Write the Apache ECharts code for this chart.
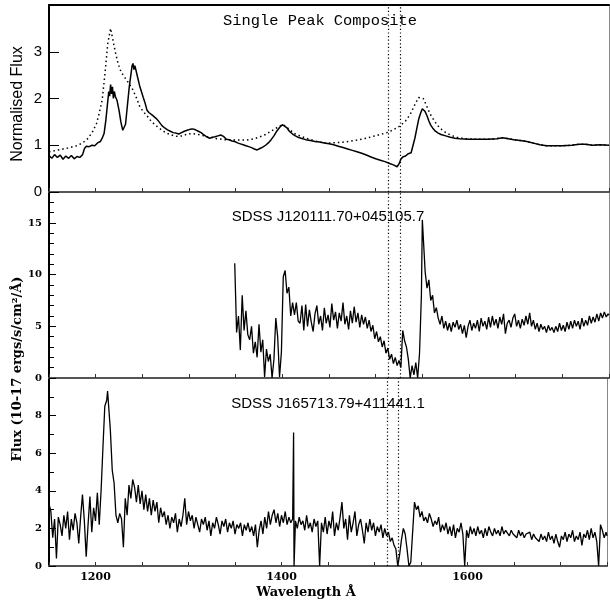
<!DOCTYPE html>
<html>
<head>
<meta charset="utf-8">
<script src="https://cdn.jsdelivr.net/npm/echarts@6/dist/echarts.min.js"></script>
<style>html,body{margin:0;padding:0;background:#fff}#c{width:610px;height:603px}</style>
</head>
<body>
<div id="c"></div>
<script>
// ---- data (wavelength in Angstrom, flux) ----
const xTickLabels = [1200, 1400, 1600];
const markWaves = [1514, 1526];
const titles = ["Single Peak Composite", "SDSS J120111.70+045105.7", "SDSS J165713.79+411441.1"];

const compositeSolid = [
[1150,0.78],[1153,0.72],[1156,0.80],[1159,0.74],[1162,0.79],[1165,0.70],[1168,0.77],[1171,0.72],[1174,0.78],[1177,0.71],
[1180,0.76],[1183,0.74],[1186,0.80],[1188,0.93],[1190,0.98],[1193,0.97],[1196,1.00],[1199,0.99],[1202,1.05],[1205,1.08],
[1207,1.15],[1209,1.25],[1211,1.55],[1213,1.95],[1214,2.15],[1215,2.05],[1216,2.30],[1217,2.10],[1218,2.25],[1219,2.00],
[1220,2.15],[1221,2.05],[1223,1.95],[1225,1.75],[1227,1.50],[1229,1.32],[1230,1.28],[1231,1.30],[1232,1.45],[1234,1.85],
[1236,2.25],[1238,2.55],[1239,2.70],[1240,2.75],[1241,2.62],[1242,2.70],[1243,2.62],[1245,2.45],[1247,2.28],[1249,2.15],
[1251,2.02],[1253,1.90],[1255,1.75],[1257,1.70],[1259,1.66],[1261,1.64],[1263,1.60],[1265,1.57],[1268,1.50],[1271,1.42],
[1274,1.37],[1277,1.33],[1280,1.30],[1283,1.27],[1286,1.26],[1289,1.24],[1292,1.27],[1295,1.30],[1298,1.32],[1301,1.34],
[1304,1.35],[1307,1.33],[1310,1.30],[1313,1.27],[1316,1.22],[1319,1.18],[1322,1.15],[1325,1.17],[1328,1.18],[1331,1.20],
[1334,1.22],[1337,1.19],[1340,1.13],[1343,1.12],[1346,1.09],[1349,1.08],[1352,1.05],[1355,1.03],[1358,1.01],[1361,0.99],
[1364,0.97],[1367,0.95],[1370,0.92],[1373,0.90],[1376,0.93],[1379,0.96],[1382,1.00],[1385,1.05],[1388,1.12],[1391,1.20],
[1394,1.30],[1397,1.38],[1400,1.44],[1402,1.45],[1405,1.37],[1408,1.29],[1411,1.24],[1414,1.20],[1417,1.17],[1420,1.15],
[1425,1.12],[1430,1.10],[1435,1.08],[1440,1.07],[1445,1.05],[1450,1.03],[1455,1.01],[1460,0.98],[1465,0.95],[1470,0.92],
[1475,0.89],[1480,0.86],[1485,0.83],[1490,0.79],[1495,0.75],[1500,0.71],[1505,0.68],[1510,0.65],[1515,0.61],[1519,0.58],
[1523,0.54],[1525,0.60],[1527,0.70],[1529,0.75],[1532,0.77],[1535,0.82],[1538,0.84],[1540,0.87],[1542,1.15],[1544,1.35],
[1546,1.55],[1548,1.68],[1550,1.78],[1551,1.79],[1553,1.72],[1555,1.63],[1557,1.52],[1559,1.43],[1561,1.37],[1564,1.30],
[1567,1.26],[1570,1.23],[1575,1.20],[1580,1.17],[1585,1.15],[1590,1.14],[1600,1.13],[1610,1.13],[1620,1.13],[1630,1.14],
[1636,1.16],[1642,1.14],[1648,1.12],[1655,1.10],[1662,1.08],[1670,1.04],[1676,1.01],[1683,0.99],[1690,0.99],[1700,0.99],
[1710,1.00],[1718,1.02],[1725,1.02],[1732,1.00],[1740,1.01],[1750,1.00]
];

const compositeDotted = [
[1150,0.86],[1160,0.90],[1170,0.94],[1180,0.99],[1186,1.05],[1192,1.15],[1197,1.30],[1201,1.47],[1204,1.70],[1207,1.97],
[1210,2.54],[1213,3.18],[1216,3.50],[1219,3.20],[1221,3.00],[1224,2.75],[1227,2.58],[1230,2.48],[1233,2.40],[1237,2.28],
[1240,2.18],[1244,2.00],[1247,1.84],[1251,1.72],[1255,1.63],[1260,1.50],[1266,1.40],[1271,1.32],[1276,1.26],[1281,1.22],
[1287,1.19],[1293,1.20],[1298,1.24],[1303,1.25],[1310,1.23],[1316,1.20],[1322,1.17],[1330,1.14],[1338,1.12],[1346,1.11],
[1355,1.11],[1362,1.11],[1370,1.14],[1376,1.18],[1382,1.23],[1387,1.29],[1392,1.35],[1397,1.41],[1401,1.44],[1404,1.40],
[1408,1.33],[1413,1.25],[1420,1.19],[1426,1.15],[1435,1.09],[1444,1.05],[1452,1.05],[1462,1.06],[1471,1.08],[1480,1.11],
[1490,1.15],[1497,1.19],[1505,1.23],[1512,1.27],[1519,1.33],[1526,1.41],[1532,1.52],[1537,1.66],[1542,1.87],[1546,2.02],
[1548,2.05],[1551,2.00],[1554,1.87],[1558,1.68],[1562,1.55],[1566,1.43],[1571,1.33],[1576,1.26],[1581,1.21],[1587,1.17],
[1595,1.14],[1605,1.13],[1615,1.13],[1625,1.13],[1636,1.16],[1642,1.14],[1648,1.12],[1655,1.10],[1662,1.08],[1670,1.04],
[1676,1.01],[1683,0.99],[1690,0.99],[1700,0.99],[1710,1.00],[1718,1.02],[1725,1.02],[1732,1.00],[1740,1.01],[1750,1.00]
];

const specJ1201 = [
[1349,11.1],[1351,4.4],[1353,6.0],[1355,2.7],[1357,8.0],[1359,4.6],[1361,6.5],[1363,4.2],[1365,3.7],[1367,5.0],
[1369,2.4],[1371,3.5],[1373,2.0],[1375,5.2],[1377,2.5],[1379,3.7],[1381,0.1],[1383,2.8],[1385,1.6],[1387,2.3],
[1389,0.0],[1391,1.8],[1393,5.8],[1395,4.0],[1397,0.1],[1399,2.5],[1401,9.8],[1403,10.4],[1405,8.2],[1407,8.8],
[1409,6.0],[1411,7.3],[1413,6.1],[1415,7.3],[1417,5.5],[1419,5.3],[1421,7.0],[1423,4.6],[1425,7.1],[1427,5.0],
[1429,6.6],[1431,5.4],[1433,4.5],[1435,6.2],[1437,7.0],[1439,5.2],[1441,6.0],[1443,4.6],[1445,6.8],[1447,5.3],
[1449,6.1],[1451,4.9],[1453,7.2],[1455,5.6],[1457,6.4],[1459,4.8],[1461,6.3],[1463,5.5],[1465,7.3],[1467,5.2],
[1469,6.0],[1471,4.7],[1473,6.5],[1475,5.3],[1477,6.9],[1479,5.4],[1481,6.3],[1483,4.9],[1485,6.1],[1487,5.2],
[1489,5.9],[1491,4.8],[1493,5.6],[1495,4.5],[1497,5.1],[1499,3.8],[1501,4.5],[1503,3.5],[1505,4.0],[1507,3.0],
[1509,3.6],[1511,2.4],[1513,2.9],[1515,1.8],[1517,2.3],[1519,1.4],[1521,2.0],[1523,1.2],[1525,1.7],[1527,1.0],
[1529,4.6],[1531,3.6],[1533,3.0],[1535,1.8],[1537,0.0],[1539,1.2],[1541,0.3],[1543,1.5],[1545,0.0],[1547,2.4],
[1549,8.0],[1550,15.3],[1552,12.0],[1553,10.3],[1555,8.7],[1557,9.5],[1559,7.5],[1561,8.0],[1563,6.3],[1565,6.8],
[1567,5.8],[1569,5.2],[1571,6.0],[1573,4.8],[1575,5.5],[1577,4.6],[1579,5.3],[1581,4.5],[1583,5.4],[1585,4.9],
[1587,5.6],[1589,4.7],[1591,5.2],[1593,4.3],[1595,5.1],[1597,3.9],[1599,5.0],[1601,5.6],[1603,4.6],[1605,5.3],
[1607,4.8],[1609,5.6],[1611,4.5],[1613,5.8],[1615,5.0],[1617,5.5],[1619,4.7],[1621,5.9],[1623,4.9],[1625,6.0],
[1627,5.1],[1629,5.7],[1631,4.8],[1633,5.9],[1635,5.2],[1637,6.2],[1639,4.3],[1641,5.3],[1643,5.6],[1645,4.9],
[1647,5.8],[1649,6.2],[1651,5.0],[1653,5.6],[1655,4.8],[1657,5.7],[1659,5.1],[1661,6.0],[1663,5.2],[1665,6.3],
[1667,5.0],[1669,5.6],[1671,4.7],[1673,5.3],[1675,4.5],[1677,5.2],[1679,4.7],[1681,5.0],[1683,4.4],[1685,5.1],
[1687,4.6],[1689,4.9],[1691,4.4],[1693,5.0],[1695,4.5],[1697,5.3],[1699,4.6],[1701,5.1],[1703,4.5],[1705,5.4],
[1707,4.7],[1709,5.5],[1711,4.8],[1713,5.6],[1715,5.0],[1717,5.5],[1719,4.7],[1721,5.8],[1723,5.0],[1725,5.6],
[1727,5.1],[1729,6.0],[1731,5.3],[1733,5.9],[1735,5.4],[1737,6.2],[1739,5.5],[1741,6.3],[1743,5.8],[1745,6.4],
[1747,5.9],[1749,6.2],[1750,6.1]
];

const specJ1657 = [
[1150,3.3],[1152,2.9],[1154,1.5],[1156,2.5],[1158,0.4],[1160,2.6],[1162,2.2],[1164,1.6],[1166,2.7],[1168,2.0],
[1170,2.9],[1172,1.4],[1174,2.5],[1176,1.9],[1178,2.8],[1180,2.3],[1182,1.2],[1184,2.6],[1186,3.8],[1188,2.4],
[1190,0.5],[1192,2.2],[1194,3.7],[1196,1.8],[1198,3.1],[1200,2.4],[1202,3.9],[1204,2.2],[1206,4.0],[1208,6.3],
[1210,8.5],[1212,8.8],[1213,9.3],[1214,8.6],[1216,7.2],[1218,5.1],[1220,4.4],[1222,2.7],[1224,2.3],[1226,2.8],
[1228,2.5],[1230,1.0],[1232,3.6],[1234,2.7],[1236,4.3],[1238,3.6],[1240,4.6],[1242,4.2],[1244,3.4],[1246,4.3],
[1248,3.3],[1250,4.0],[1252,3.0],[1254,3.8],[1256,2.9],[1258,3.6],[1260,2.7],[1262,3.5],[1264,2.9],[1266,3.4],
[1268,2.3],[1270,3.1],[1272,2.6],[1274,2.9],[1276,2.2],[1278,2.7],[1280,2.0],[1282,2.6],[1284,2.3],[1286,2.8],
[1288,1.8],[1290,2.5],[1292,2.1],[1294,2.7],[1296,3.6],[1298,2.2],[1300,2.9],[1302,2.4],[1304,2.7],[1306,2.0],
[1308,2.6],[1310,2.2],[1312,1.8],[1314,2.5],[1316,2.2],[1318,2.6],[1320,1.9],[1322,2.4],[1324,1.6],[1326,2.3],
[1328,2.0],[1330,2.6],[1332,2.2],[1334,1.7],[1336,2.4],[1338,2.1],[1340,2.5],[1342,1.8],[1344,2.3],[1346,2.0],
[1348,2.4],[1350,1.7],[1352,2.2],[1354,2.0],[1356,2.3],[1358,1.6],[1360,2.2],[1362,1.9],[1364,2.3],[1366,1.8],
[1368,2.1],[1370,1.6],[1372,2.2],[1374,1.0],[1376,1.9],[1378,2.4],[1380,1.7],[1382,2.6],[1384,2.0],[1386,2.9],
[1388,2.2],[1390,2.7],[1392,3.0],[1394,2.3],[1396,2.8],[1398,2.1],[1400,2.7],[1402,2.3],[1404,2.9],[1406,2.2],
[1408,2.6],[1410,2.3],[1412,2.5],[1413,7.1],[1413.5,0.0],[1415,2.4],[1417,2.0],[1419,2.6],[1421,2.2],[1423,2.4],
[1425,1.9],[1427,2.7],[1429,2.0],[1431,2.3],[1433,1.8],[1435,2.5],[1437,2.1],[1439,2.4],[1441,0.0],[1443,2.3],
[1445,1.8],[1447,2.6],[1449,1.7],[1451,2.4],[1453,2.0],[1455,2.9],[1457,1.6],[1459,2.3],[1461,1.9],[1463,2.6],
[1465,3.4],[1467,2.0],[1469,2.5],[1471,1.4],[1473,2.7],[1475,1.8],[1477,2.3],[1479,2.9],[1481,1.6],[1483,2.2],
[1485,2.5],[1487,1.9],[1489,1.2],[1491,2.3],[1493,1.8],[1495,2.5],[1497,1.9],[1499,2.3],[1501,1.6],[1503,2.1],
[1505,1.8],[1507,2.2],[1509,1.5],[1511,2.0],[1513,1.6],[1515,1.8],[1517,1.3],[1519,1.5],[1521,1.1],[1523,0.9],
[1525,0.0],[1527,0.6],[1529,1.4],[1531,2.0],[1533,1.7],[1535,0.9],[1537,0.0],[1539,0.2],[1541,1.8],[1543,3.4],
[1545,3.0],[1547,3.2],[1549,2.6],[1551,2.9],[1553,2.4],[1555,2.6],[1557,2.3],[1559,2.8],[1561,2.5],[1563,2.1],
[1565,2.4],[1567,2.2],[1569,2.6],[1571,1.8],[1573,2.2],[1575,1.9],[1577,2.3],[1579,1.7],[1581,2.1],[1583,1.6],
[1585,2.2],[1587,1.5],[1589,2.0],[1591,1.8],[1593,2.3],[1595,1.7],[1597,0.0],[1599,1.9],[1601,1.5],[1603,2.1],
[1605,1.7],[1607,2.0],[1609,1.6],[1611,2.1],[1613,1.7],[1615,1.9],[1617,1.5],[1619,2.0],[1621,1.6],[1623,2.1],
[1625,1.8],[1627,1.6],[1629,2.0],[1631,1.7],[1633,1.9],[1635,1.6],[1637,2.1],[1639,1.7],[1641,1.9],[1643,1.8],
[1645,1.6],[1647,1.9],[1649,1.7],[1651,1.8],[1653,1.5],[1655,1.9],[1657,1.6],[1659,1.8],[1661,1.5],[1663,1.7],
[1665,1.6],[1667,1.8],[1669,1.4],[1671,1.7],[1673,1.5],[1675,1.6],[1677,1.3],[1679,1.7],[1681,1.4],[1683,1.6],
[1685,1.3],[1687,1.8],[1689,1.4],[1691,1.6],[1693,1.2],[1695,1.7],[1697,1.3],[1699,1.0],[1701,1.6],[1703,1.4],
[1705,1.8],[1707,1.3],[1709,1.7],[1711,1.5],[1713,1.9],[1715,1.3],[1717,1.6],[1719,1.4],[1721,1.8],[1723,1.1],
[1725,1.7],[1727,1.5],[1729,1.9],[1731,1.4],[1733,2.0],[1735,1.5],[1737,1.8],[1739,1.3],[1741,0.0],[1743,2.2],
[1745,1.9],[1747,1.5],[1749,1.8],[1750,1.6]
];

// ---- chart ----
const chart = echarts.init(document.getElementById('c'), null, {renderer: 'canvas'});
const grids = [
  {left: 49, right: 1, top: 5, height: 187},
  {left: 49, right: 1, top: 192, height: 186},
  {left: 49, right: 1, top: 378, height: 188}
];
const serifBold = {fontFamily: 'DejaVu Serif', fontWeight: 'bold', color: '#000'};

function xAxisFor(i) {
  return {
    type: 'value', gridIndex: i, min: 1150, max: 1750, interval: 50, position: 'bottom',
    axisLine: {show: true, onZero: false, lineStyle: {color: '#555', width: 2}},
    axisTick: {show: true, inside: true, length: 4, lineStyle: {color: '#333', width: 1}},
    axisLabel: {show: i === 2, margin: 6, fontSize: 11, ...serifBold,
      formatter: v => xTickLabels.includes(v) ? String(v) : ''},
    splitLine: {show: false}
  };
}
const xAxes = [xAxisFor(0), xAxisFor(1), xAxisFor(2),
  {type: 'value', gridIndex: 0, min: 1150, max: 1750, position: 'top',
   axisLine: {show: true, onZero: false, lineStyle: {color: '#000', width: 2}},
   axisTick: {show: false}, axisLabel: {show: false}, splitLine: {show: false}}
];

const yCfg = [
  {max: 4, interval: 1, minor: false, split: 1, label: {fontSize: 15, fontFamily: 'Liberation Sans', color: '#000'}, tick: 10, labelEvery: 1},
  {max: 18, interval: 5, minor: true, split: 5, label: {fontSize: 10, ...serifBold}, tick: 7, labelEvery: 5},
  {max: 10, interval: 2, minor: true, split: 2, label: {fontSize: 10, ...serifBold}, tick: 7, labelEvery: 2}
];
const yAxes = [];
yCfg.forEach((c, i) => {
  yAxes.push({
    type: 'value', gridIndex: i, min: 0, max: c.max, interval: c.interval, position: 'left',
    axisLine: {show: true, onZero: false, lineStyle: {color: '#000', width: 2}},
    axisTick: {show: true, inside: true, length: c.tick, lineStyle: {color: '#000', width: 1}},
    minorTick: {show: c.minor, splitNumber: c.split, length: 5, lineStyle: {color: '#000', width: 1}},
    axisLabel: {show: true, margin: 7, showMaxLabel: false, ...c.label,
      formatter: v => (v % c.labelEvery === 0 && v < c.max) ? String(v) : ''},
    splitLine: {show: false}
  });
});
yCfg.forEach((c, i) => {
  yAxes.push({
    type: 'value', gridIndex: i, min: 0, max: c.max, position: 'right',
    axisLine: {show: true, onZero: false, lineStyle: {color: '#888', width: 1}},
    axisTick: {show: false}, axisLabel: {show: false}, splitLine: {show: false}
  });
});

const markLine = {
  silent: true, symbol: 'none', animation: false, label: {show: false},
  lineStyle: {color: '#000', width: 1.2, type: [1.2, 2.4]},
  data: markWaves.map(w => ({xAxis: w}))
};

const series = [
  {type: 'line', xAxisIndex: 0, yAxisIndex: 0, data: compositeDotted, showSymbol: false,
   lineStyle: {color: '#000', width: 1.5, type: [1.5, 3]}, markLine: markLine},
  {type: 'line', xAxisIndex: 0, yAxisIndex: 0, data: compositeSolid, showSymbol: false,
   lineStyle: {color: '#000', width: 1.5}},
  {type: 'line', xAxisIndex: 1, yAxisIndex: 1, data: specJ1201, showSymbol: false,
   lineStyle: {color: '#000', width: 1.3}, markLine: markLine},
  {type: 'line', xAxisIndex: 2, yAxisIndex: 2, data: specJ1657, showSymbol: false,
   lineStyle: {color: '#000', width: 1.3}, markLine: markLine}
];

const titlePos = [[320, 21], [328, 216.5], [328, 403.5]];
const titleFonts = ['15.4px "Liberation Mono"', '15px "Liberation Sans"', '15px "Liberation Sans"'];
const graphics = titles.map((t, i) => ({
  type: 'text', x: titlePos[i][0], y: titlePos[i][1], silent: true,
  style: {text: t, font: titleFonts[i], fill: '#000', textAlign: 'center', textVerticalAlign: 'middle'}
}));
graphics.push({type: 'text', x: 17.5, y: 104, rotation: Math.PI / 2, silent: true,
  style: {text: 'Normalised Flux', font: '16px "Liberation Sans"', fill: '#000', textAlign: 'center', textVerticalAlign: 'middle'}});
graphics.push({type: 'text', x: 17.5, y: 369, rotation: Math.PI / 2, silent: true,
  style: {text: 'Flux (10-17 ergs/s/cm²/Å)', font: 'bold 13px "DejaVu Serif"', fill: '#000', textAlign: 'center', textVerticalAlign: 'middle'}});
graphics.push({type: 'text', x: 306, y: 593, silent: true,
  style: {text: 'Wavelength Å', font: 'bold 13px "DejaVu Serif"', fill: '#000', textAlign: 'center', textVerticalAlign: 'middle'}});

chart.setOption({
  animation: false,
  backgroundColor: '#fff',
  grid: grids,
  xAxis: xAxes,
  yAxis: yAxes,
  series: series,
  graphic: graphics
});
</script>
</body>
</html>
